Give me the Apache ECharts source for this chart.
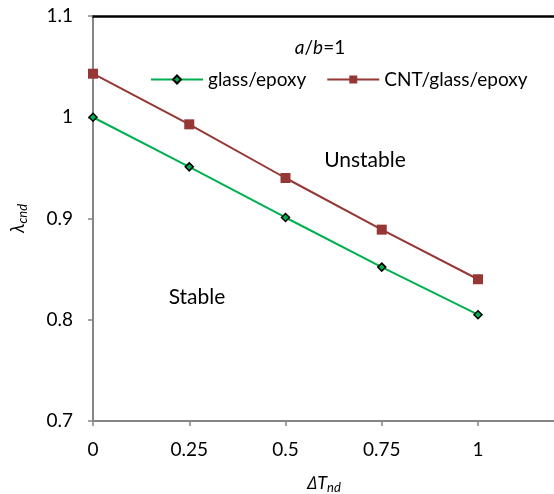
<!DOCTYPE html>
<html><head><meta charset="utf-8">
<script src="https://cdn.jsdelivr.net/npm/echarts@6/dist/echarts.min.js"></script>
<style>html,body{margin:0;padding:0;background:#fff}#c{width:554px;height:494px}</style>
</head><body><div id="c"></div>
<script>
const xValues = [0, 0.25, 0.5, 0.75, 1];
const glassEpoxy = [1.000, 0.951, 0.901, 0.852, 0.805];
const cntGlassEpoxy = [1.043, 0.993, 0.940, 0.889, 0.840];
const seriesNames = ['glass/epoxy', 'CNT/glass/epoxy'];

const FONT = 'Lato, "Open Sans", sans-serif';
const chart = echarts.init(document.getElementById('c'), null, {renderer: 'canvas'});
const fmt = v => String(Math.round(v * 100) / 100);

chart.setOption({
  animation: false,
  textStyle: {fontFamily: FONT},
  grid: {left: 93, top: 16, width: 462, bottom: 73, containLabel: false, outerBoundsMode: 'none'},
  legend: {
    top: 65, left: 145, itemWidth: 52, itemHeight: 10, itemGap: 20,
    textStyle: {fontSize: 19, color: '#000', fontFamily: FONT},
    data: seriesNames
  },
  xAxis: [{
    type: 'value', min: 0, max: 1.2, interval: 0.25,
    name: '{i|∆T}{s|nd}', nameLocation: 'middle', nameGap: 52,
    nameTextStyle: {rich: {
      i: {fontStyle: 'italic', fontSize: 18, color: '#000', fontFamily: FONT},
      s: {fontStyle: 'italic', fontSize: 13, color: '#000', verticalAlign: 'bottom', padding: [8, 0, 0, 0], fontFamily: FONT}
    }},
    axisLine: {lineStyle: {color: '#868686', width: 2}},
    axisTick: {show: true, length: 5, lineStyle: {color: '#868686', width: 1.5}},
    axisLabel: {fontSize: 19, color: '#000', margin: 19, formatter: v => v > 1.01 ? '' : fmt(v)},
    splitLine: {show: false}
  }, {
    type: 'value', position: 'top', min: 0, max: 1.2,
    axisLine: {show: true, lineStyle: {color: '#000', width: 2.5}},
    axisTick: {show: false}, axisLabel: {show: false}, splitLine: {show: false}
  }],
  yAxis: {
    type: 'value', min: 0.7, max: 1.1, interval: 0.1,
    name: '{i|λ}{s|cnd}', nameLocation: 'middle', nameRotate: 90, nameGap: 64,
    nameTextStyle: {rich: {
      i: {fontStyle: 'italic', fontSize: 19, color: '#000', fontFamily: FONT},
      s: {fontStyle: 'italic', fontSize: 13, color: '#000', verticalAlign: 'bottom', padding: [10, 0, 0, 0], fontFamily: FONT}
    }},
    axisLine: {show: true, lineStyle: {color: '#868686', width: 2}},
    axisTick: {show: true, length: 5, lineStyle: {color: '#868686', width: 1.5}},
    axisLabel: {fontSize: 19, color: '#000', margin: 20, formatter: fmt},
    splitLine: {show: false}
  },
  series: [{
    name: seriesNames[0], type: 'line',
    data: xValues.map((x, i) => [x, glassEpoxy[i]]),
    symbol: 'diamond', symbolSize: 8,
    lineStyle: {color: '#00B050', width: 2},
    itemStyle: {color: '#00B050', borderColor: '#000', borderWidth: 1.5}
  }, {
    name: seriesNames[1], type: 'line',
    data: xValues.map((x, i) => [x, cntGlassEpoxy[i]]),
    symbol: 'rect', symbolSize: 10,
    lineStyle: {color: '#953735', width: 2},
    itemStyle: {color: '#953735', borderColor: '#953735', borderWidth: 0}
  }],
  graphic: [
    {type: 'text', style: {text: '{i|a}/{i|b}=1', x: 320, y: 48, align: 'center', verticalAlign: 'middle', rich: {i: {fontStyle: 'italic', fontSize: 19, fontFamily: FONT}}, font: '19px ' + FONT, fill: '#000'}},
    {type: 'text', style: {text: 'Unstable', x: 365, y: 160, align: 'center', verticalAlign: 'middle', font: '21px ' + FONT, fill: '#000'}},
    {type: 'text', style: {text: 'Stable', x: 197, y: 297, align: 'center', verticalAlign: 'middle', font: '21px ' + FONT, fill: '#000'}}
  ]
});
</script>
</body></html>
